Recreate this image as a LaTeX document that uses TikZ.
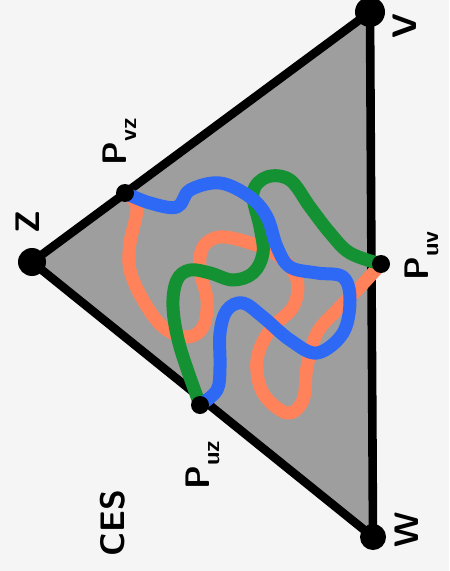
\documentclass[tikz,border=0pt]{standalone}
\definecolor{strandblue}{RGB}{45,105,245}
\definecolor{strandgreen}{RGB}{20,145,50}
\definecolor{strandorange}{RGB}{255,130,90}
\newcommand{\sublbl}[1]{\raisebox{-0.3em}{\fontsize{12}{12}\selectfont #1}}
\begin{document}
\begin{tikzpicture}[x=0.5pt, y=-0.5pt, line cap=round, line join=round,
    lbl/.style={rotate=90, font=\fontsize{17}{17}\selectfont\sffamily\bfseries},
    strand/.style={line width=6.5pt}]
\useasboundingbox (0,0) rectangle (449,571);
\fill[black!4] (0,0) rectangle (449,571);
% corners and edge points
\coordinate (V) at (370,12);
\coordinate (Z) at (32,262);
\coordinate (W) at (373,537);
\coordinate (Pvz) at (125,193);
\coordinate (Puv) at (381,264);
\coordinate (Puz) at (200,405);

\filldraw[fill=black!38, line width=4.3pt] (Z)--(V)--(W)--cycle;

% the three strands
\draw[strand, strandorange] plot[smooth, tension=0.6] coordinates {(Pvz) (137,207) (130,243) (130,270) (143,300) (163,327) (187,337) (203,327) (207,300) (200,270) (203,247) (220,237) (250,243) (280,257) (297,280) (293,307) (270,330) (257,360) (263,393) (287,413) (303,400) (307,367) (317,333) (337,310) (360,287) (Puv)};
\draw[strand, strandgreen] plot[smooth, tension=0.6] coordinates {(Puz) (180,347) (173,307) (177,280) (190,270) (210,273) (233,280) (253,273) (263,253) (260,227) (253,193) (267,177) (290,180) (310,207) (330,233) (350,253) (Puv)};
\draw[strand, strandblue] plot[smooth, tension=0.6] coordinates {(Pvz) (150,203) (177,207) (190,190) (220,183) (250,197) (267,217) (277,247) (290,267) (317,273) (343,277) (350,300) (343,333) (317,353) (290,340) (263,317) (243,303) (227,310) (220,333) (220,367) (217,390) (Puz)};

\fill (V) circle (7.5pt);
\fill (Z) circle (7pt);
\fill (W) circle (6.5pt);
\foreach \p in {Pvz,Puv,Puz} \fill (\p) circle (4.5pt);

\node[lbl] (lv) at (405,26) {V};
\node[lbl] (lz) at (28,222) {Z};
\node[lbl] (lw) at (407,530) {W};
\node[lbl] (lpvz) at (120,142) {P\sublbl{vz}};
\node[lbl] (lpuv) at (422,256) {P\sublbl{uv}};
\node[lbl] (lpuz) at (203,465) {P\sublbl{uz}};
\node[lbl] (lces) at (113,523) {CES};
\end{tikzpicture}
\end{document}
